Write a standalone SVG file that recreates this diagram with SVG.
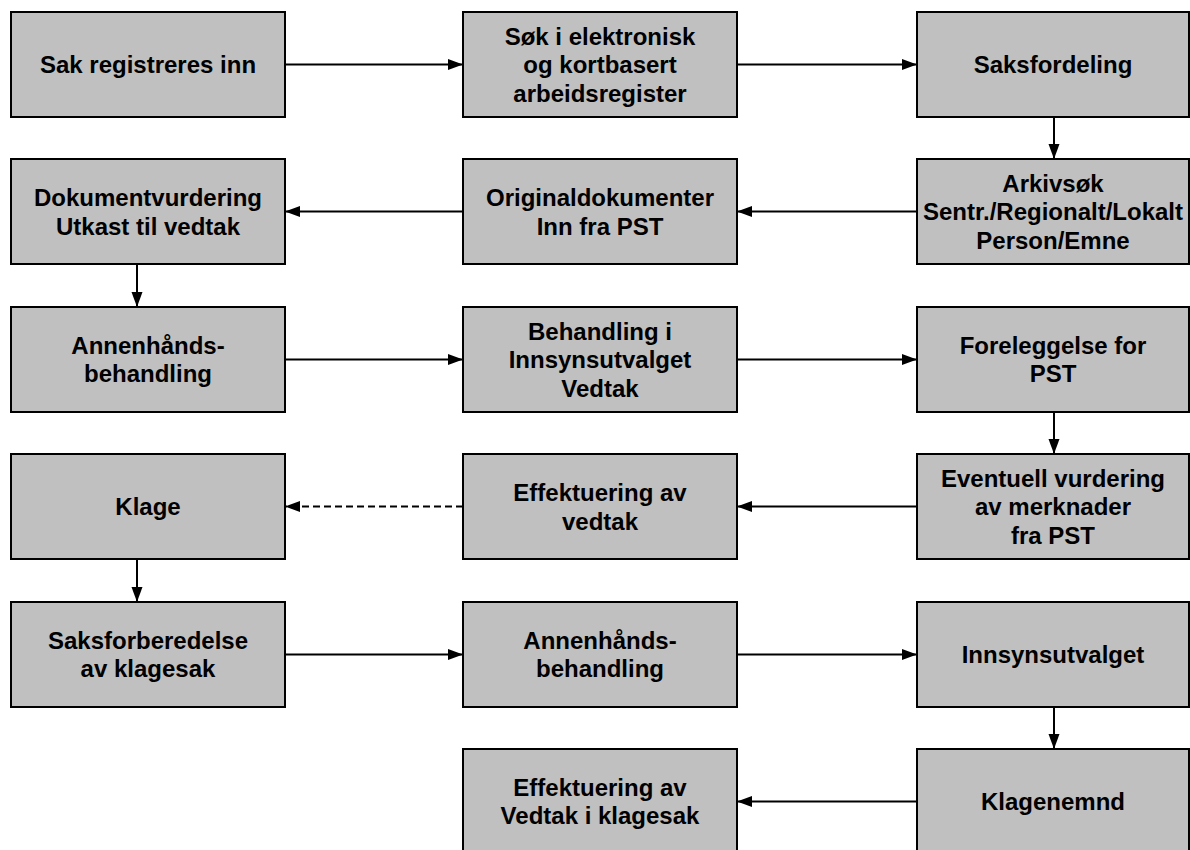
<svg xmlns="http://www.w3.org/2000/svg" width="1190" height="850" viewBox="0 0 1190 850">
<style>
.box rect{fill:#C0C0C0;stroke:#000;stroke-width:2}
.box text{font-family:"Liberation Sans",Arial,sans-serif;font-weight:bold;font-size:24px;fill:#000;text-anchor:middle}
.conn line{stroke:#000;stroke-width:2;fill:none}
.dash{stroke-dasharray:7 4}
</style>
<defs>
<marker id="ah" markerUnits="userSpaceOnUse" markerWidth="16" markerHeight="12" refX="15" refY="6" orient="auto">
<path d="M0,0.5 L15,6 L0,11.5 Z" fill="#000"/>
</marker>
</defs>
<rect width="1190" height="850" fill="#fff"/>
<g class="conn">
<line x1="285" y1="64.5" x2="463" y2="64.5" marker-end="url(#ah)"/>
<line x1="737" y1="64.5" x2="917" y2="64.5" marker-end="url(#ah)"/>
<line x1="1054" y1="117" x2="1054" y2="159" marker-end="url(#ah)"/>
<line x1="917" y1="211.5" x2="737" y2="211.5" marker-end="url(#ah)"/>
<line x1="463" y1="211.5" x2="285" y2="211.5" marker-end="url(#ah)"/>
<line x1="137" y1="264" x2="137" y2="307" marker-end="url(#ah)"/>
<line x1="285" y1="359.5" x2="463" y2="359.5" marker-end="url(#ah)"/>
<line x1="737" y1="359.5" x2="917" y2="359.5" marker-end="url(#ah)"/>
<line x1="1054" y1="412" x2="1054" y2="454" marker-end="url(#ah)"/>
<line x1="917" y1="506.5" x2="737" y2="506.5" marker-end="url(#ah)"/>
<line class="dash" x1="463" y1="506.5" x2="285" y2="506.5" marker-end="url(#ah)"/>
<line x1="137" y1="559" x2="137" y2="602" marker-end="url(#ah)"/>
<line x1="285" y1="654.5" x2="463" y2="654.5" marker-end="url(#ah)"/>
<line x1="737" y1="654.5" x2="917" y2="654.5" marker-end="url(#ah)"/>
<line x1="1054" y1="707" x2="1054" y2="749" marker-end="url(#ah)"/>
<line x1="917" y1="801.5" x2="737" y2="801.5" marker-end="url(#ah)"/>
</g>
<g id="n1" class="box"><rect x="11" y="12" width="274" height="105"/><text x="148" y="73">Sak registreres inn</text></g>
<g id="n2" class="box"><rect x="463" y="12" width="274" height="105"/><text x="600" y="44.5">Søk i elektronisk</text><text x="600" y="73">og kortbasert</text><text x="600" y="101.5">arbeidsregister</text></g>
<g id="n3" class="box"><rect x="917" y="12" width="272" height="105"/><text x="1053" y="73">Saksfordeling</text></g>
<g id="n4" class="box"><rect x="917" y="159" width="272" height="105"/><text x="1053" y="191.5">Arkivsøk</text><text x="1053" y="220">Sentr./Regionalt/Lokalt</text><text x="1053" y="248.5">Person/Emne</text></g>
<g id="n5" class="box"><rect x="463" y="159" width="274" height="105"/><text x="600" y="206">Originaldokumenter</text><text x="600" y="234.5">Inn fra PST</text></g>
<g id="n6" class="box"><rect x="11" y="159" width="274" height="105"/><text x="148" y="206">Dokumentvurdering</text><text x="148" y="234.5">Utkast til vedtak</text></g>
<g id="n7" class="box"><rect x="11" y="307" width="274" height="105"/><text x="148" y="353.5">Annenhånds-</text><text x="148" y="382">behandling</text></g>
<g id="n8" class="box"><rect x="463" y="307" width="274" height="105"/><text x="600" y="339.5">Behandling i</text><text x="600" y="368">Innsynsutvalget</text><text x="600" y="396.5">Vedtak</text></g>
<g id="n9" class="box"><rect x="917" y="307" width="272" height="105"/><text x="1053" y="353.5">Foreleggelse for</text><text x="1053" y="382">PST</text></g>
<g id="n10" class="box"><rect x="917" y="454" width="272" height="105"/><text x="1053" y="486.5">Eventuell vurdering</text><text x="1053" y="515">av merknader</text><text x="1053" y="543.5">fra PST</text></g>
<g id="n11" class="box"><rect x="463" y="454" width="274" height="105"/><text x="600" y="501">Effektuering av</text><text x="600" y="529.5">vedtak</text></g>
<g id="n12" class="box"><rect x="11" y="454" width="274" height="105"/><text x="148" y="515">Klage</text></g>
<g id="n13" class="box"><rect x="11" y="602" width="274" height="105"/><text x="148" y="648.5">Saksforberedelse</text><text x="148" y="677">av klagesak</text></g>
<g id="n14" class="box"><rect x="463" y="602" width="274" height="105"/><text x="600" y="648.5">Annenhånds-</text><text x="600" y="677">behandling</text></g>
<g id="n15" class="box"><rect x="917" y="602" width="272" height="105"/><text x="1053" y="663">Innsynsutvalget</text></g>
<g id="n16" class="box"><rect x="463" y="749" width="274" height="105"/><text x="600" y="795.5">Effektuering av</text><text x="600" y="824">Vedtak i klagesak</text></g>
<g id="n17" class="box"><rect x="917" y="749" width="272" height="105"/><text x="1053" y="810">Klagenemnd</text></g>
</svg>
